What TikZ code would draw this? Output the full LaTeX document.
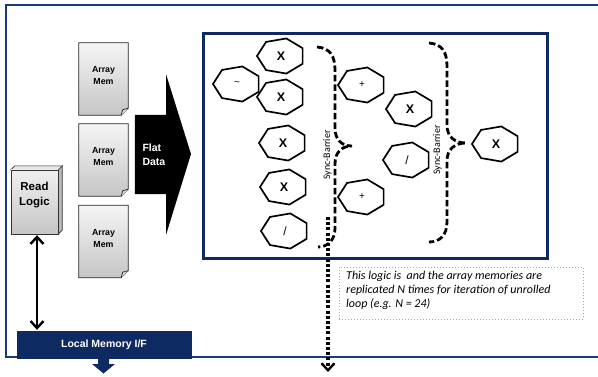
\documentclass[tikz,border=0pt]{standalone}
\usepackage{fontspec}
\setmainfont{Liberation Sans}
\newfontfamily\calfont{Carlito}
\usetikzlibrary{arrows.meta,calc}
\definecolor{navy}{HTML}{0E2A62}
\definecolor{navyline}{HTML}{1B3A78}
\tikzset{
  docbox/.style={minimum width=49pt,minimum height=72pt,inner sep=0pt,align=center,font=\bfseries\fontsize{8.8}{12}\selectfont},
  hepnode/.style={inner sep=0pt,minimum width=46pt,minimum height=35pt},
  hepline/.style={draw=black,line width=1.7pt,line join=miter,fill=white},
  bigx/.style={font=\bfseries\fontsize{12.5}{12}\selectfont},
  smallop/.style={font=\fontsize{10}{10}\selectfont},
  bracestyle/.style={line width=2.8pt,dash pattern=on 6.5pt off 3pt,line cap=butt},
  synctext/.style={font=\calfont\fontsize{10}{10}\selectfont,rotate=90,inner sep=0pt},
  mybarb/.tip={Straight Barb[length=7pt,width=13pt,line width=2.4pt]},
}
\newcommand\hepta[1]{%
  \begin{scope}[shift={(#1.center)}]
  \draw[hepline] (180:24pt and 18pt) \foreach \k in {1,...,6}{ -- ({180+\k*360/7}:24pt and 18pt)} -- cycle;
  \end{scope}}
\begin{document}
\begin{tikzpicture}[x=1pt,y=-1pt]
\useasboundingbox (0,0) rectangle (598,376);
\fill[white] (0,0) rectangle (598,376);
% outer frame
\draw[navyline,line width=2.2pt] (598,5) -- (6,5) -- (6,357) -- (598,357);
% inner box
\draw[navy,line width=3pt] (203,33) rectangle (547,258);

% array memories
\foreach \i/\y in {1/79,2/160,3/241.5}{
  \node[docbox] (doc\i) at (103.5,\y) {};
  \shade[top color=gray!8,bottom color=gray!45,draw=black!85,line width=0.7pt]
    (doc\i.north west) -- (doc\i.north east) -- ($(doc\i.south east)+(0,-7)$) -- ($(doc\i.south east)+(-7,0)$) -- (doc\i.south west) -- cycle;
  \draw[black!85,line width=0.7pt,fill=gray!30] ($(doc\i.south east)+(-7,0)$) -- ($(doc\i.south east)+(-5.5,-5.5)$) -- ($(doc\i.south east)+(0,-7)$);
  \node[docbox,minimum height=0pt] (doct\i) at ($(doc\i.center)+(0,-3)$) {Array\\Mem};
}

% flat data arrow
\node[inner sep=0pt,minimum width=31pt,minimum height=79pt] (flat) at (150.5,154.5) {};
\fill[black] (flat.north west) -- (flat.north east) -- (166,74) -- (191,154) -- (166,235) -- (flat.south east) -- (flat.south west) -- cycle;
\node[text=white,font=\bfseries\fontsize{10.5}{14}\selectfont,align=left,anchor=west] (flatt) at (139,155) {Flat\\Data};

% read logic 3D box
\node[inner sep=0pt,minimum width=47pt,minimum height=64pt] (rl) at (34.5,202) {};
\fill[gray!55,draw=black!80,line width=0.6pt] (rl.north east) -- ++(4,-4) -- ($(rl.south east)+(4,-4)$) -- (rl.south east) -- cycle;
\fill[gray!20,draw=black!80,line width=0.6pt] (rl.north west) -- ++(4,-4) -- ($(rl.north east)+(4,-4)$) -- (rl.north east) -- cycle;
\shade[top color=gray!12,bottom color=gray!45,draw=black!80,line width=0.6pt] (rl.north west) rectangle (rl.south east);
\node[font=\bfseries\fontsize{11.5}{15}\selectfont,align=center] (rlt) at (34.5,195) {Read\\Logic};

% local memory I/F
\node[fill=navy,draw=navy,minimum width=174pt,minimum height=27pt,inner sep=0pt,text=white,font=\bfseries\fontsize{10.5}{10}\selectfont] (lm) at (104,344.5) {Local Memory I/F};
\fill[navy] (98,358) -- (109,358) -- (109,364) -- (115,364) -- (103.5,373.5) -- (92,364) -- (98,364) -- cycle;

% double arrow
\coordinate (ra) at ($(rl.south)+(2.5,1)$);
\draw[line width=2.8pt,{mybarb}-{mybarb}] (ra) -- ($(ra |- lm.north)+(0,-1)$);

% heptagons
\node[hepnode] (h1) at (281,56) {};
\node[hepnode] (h2) at (237,84) {};
\node[hepnode] (h3) at (281,97) {};
\node[hepnode] (h4) at (283,143) {};
\node[hepnode] (h5) at (284,187) {};
\node[hepnode] (h6) at (285,231) {};
\node[hepnode] (h7) at (362,85) {};
\node[hepnode] (h8) at (362,197) {};
\node[hepnode] (h9) at (410,109) {};
\node[hepnode] (h10) at (407,160) {};
\node[hepnode] (h11) at (496,144) {};
\foreach \n in {h1,h2,h3,h4,h5,h6,h7,h8,h9,h10,h11}{\hepta{\n}}
\node[bigx] at (h1) {X};
\node[smallop] at (h2) {\textasciitilde};
\node[bigx] at (h3) {X};
\node[bigx] at (h4) {X};
\node[bigx] at (h5) {X};
\node[font=\fontsize{12}{12}\selectfont] at (h6) {/};
\node[smallop] at (h7) {+};
\node[smallop] at (h8) {+};
\node[bigx] at (h9) {X};
\node[font=\fontsize{12}{12}\selectfont] at (h10) {/};
\node[bigx] at (h11) {X};

% dotted arrow
\coordinate (ds) at (328,217);
\coordinate (de) at (328,372);
\draw[line width=3.2pt,dash pattern=on 3pt off 2.2pt,-{mybarb}] (ds) -- (de);

% sync barriers
\draw[bracestyle] (317,47) .. controls (330,48) and (335,56) .. (335,70) -- (335,128) .. controls (335,140) and (342,146) .. (352,146) .. controls (342,146) and (335,152) .. (335,164) -- (335,228) .. controls (335,240) and (328,247) .. (318,247);
\draw[bracestyle] (429,43) .. controls (442,44) and (447,52) .. (447,66) -- (447,125) .. controls (447,137) and (455,143) .. (466,143) .. controls (455,143) and (447,149) .. (447,161) -- (447,222) .. controls (447,235) and (440,242) .. (429,242);
\node[synctext] (sb1) at (327.5,155) {Sync-Barrier};
\node[synctext] (sb2) at (437.5,150) {Sync-Barrier};

% note
\node[draw=gray!70,dotted,line width=1pt,minimum width=244pt,minimum height=52pt,inner sep=0pt] (note) at (461,293) {};
\node[anchor=north west,inner sep=0pt,align=left,font=\calfont\itshape\fontsize{12}{14}\selectfont] (notet) at (346,271) {This logic is \ and the array memories are\\replicated N times for iteration of unrolled\\loop (e.g. N = 24)};
\end{tikzpicture}
\end{document}
